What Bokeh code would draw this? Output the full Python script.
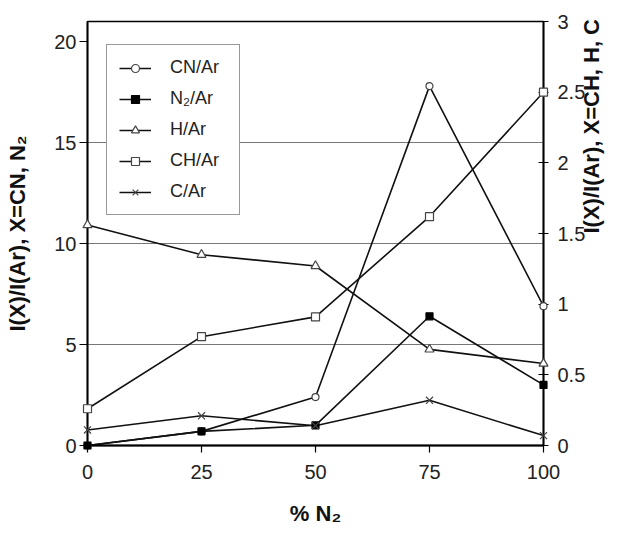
import math
from bokeh.plotting import figure
from bokeh.models import Range1d, LinearAxis, FixedTicker, Legend, LegendItem
from bokeh.embed import file_html
from bokeh.resources import INLINE

# ---- data ----
x_pct = [0, 25, 50, 75, 100]
cn_ar = [0.0, 0.7, 2.4, 17.8, 6.9]      # left axis
n2_ar = [0.0, 0.7, 1.0, 6.4, 3.0]       # left axis
h_ar = [1.56, 1.35, 1.27, 0.68, 0.58]   # right axis
ch_ar = [0.26, 0.77, 0.91, 1.62, 2.5]   # right axis
c_ar = [0.11, 0.21, 0.14, 0.32, 0.07]   # right axis

x_ticks = [0, 25, 50, 75, 100]
left_ticks = [0, 5, 10, 15, 20]
right_ticks = [0, 0.5, 1, 1.5, 2, 2.5, 3]
grid_ticks = [5, 10, 15]

FONT = "Liberation Sans"

p = figure(width=619, height=528, output_backend="svg", toolbar_location=None,
           x_range=Range1d(0, 100), y_range=Range1d(0, 21),
           min_border_left=87, min_border_right=75, min_border_top=21, min_border_bottom=83,
           background_fill_color="white", border_fill_color="white")
p.extra_y_ranges = {"right": Range1d(0, 3)}

p.outline_line_color = "black"
p.outline_line_width = 1.5
p.xgrid.visible = False
p.ygrid.ticker = FixedTicker(ticks=grid_ticks)
p.ygrid.grid_line_color = "#777777"
p.ygrid.grid_line_width = 1.2

# bottom axis
xa = p.xaxis[0]
xa.ticker = FixedTicker(ticks=x_ticks)
xa.axis_label = "% N₂"
# left axis
ya = p.yaxis[0]
ya.ticker = FixedTicker(ticks=left_ticks)
ya.axis_label = "I(X)/I(Ar), X=CN, N₂"
# right axis
ra = LinearAxis(y_range_name="right", ticker=FixedTicker(ticks=right_ticks),
                axis_label="I(X)/I(Ar), X=CH, H, C")
p.add_layout(ra, "right")

for ax in (xa, ya, ra):
    ax.axis_line_color = "black"
    ax.axis_line_width = 1.8
    ax.major_tick_line_color = "black"
    ax.major_tick_line_width = 1.2
    ax.minor_tick_line_color = None
    ax.major_label_text_font = FONT
    ax.major_label_text_font_size = "20px"
    ax.major_label_text_color = "#222222"
    ax.axis_label_text_font = FONT
    ax.axis_label_text_font_style = "bold"
    ax.axis_label_text_font_size = "22px"
    ax.axis_label_text_color = "#111111"

xa.major_tick_out = 7
xa.major_tick_in = 0
xa.major_label_standoff = 12
xa.axis_label_standoff = 19
ya.major_tick_out = 8
ya.major_tick_in = 0
ya.major_label_standoff = 3
ya.axis_label_standoff = 21
ra.major_tick_out = 5
ra.major_tick_in = 5
ra.major_label_standoff = 9
ra.axis_label_standoff = 3
ra.axis_label_orientation = math.pi / 2
ya.major_label_overrides = {0: "0", 5: "5", 10: "10", 15: "15", 20: "20"}
ra.major_label_overrides = {0: "0", 1: "1", 2: "2", 3: "3"}

LINE = "#111111"
EDGE = "#444444"

def series(y, marker, fill, rname=None, size=8):
    kw = {} if rname is None else {"y_range_name": rname}
    ln = p.line(x_pct, y, line_color=LINE, line_width=1.6, **kw)
    sc = p.scatter(x_pct, y, marker=marker, size=size, fill_color=fill,
                   line_color=EDGE if fill == "white" else "black", line_width=1.2,
                   level="overlay", **kw)
    return [ln, sc]

r_cn = series(cn_ar, "circle", "white", size=7)
r_h = series(h_ar, "triangle", "white", "right", size=9)
r_ch = series(ch_ar, "square", "white", "right", size=8)
r_n2 = series(n2_ar, "square", "black", size=7)
r_c = series(c_ar, "x", "white", "right", size=10)

legend = Legend(items=[
    LegendItem(label="CN/Ar", renderers=r_cn),
    LegendItem(label="N₂/Ar", renderers=r_n2),
    LegendItem(label="H/Ar", renderers=r_h),
    LegendItem(label="CH/Ar", renderers=r_ch),
    LegendItem(label="C/Ar", renderers=r_c),
], location=(19, 230), margin=0, padding=12, spacing=10,
   glyph_width=32, glyph_height=20, label_height=20, label_width=57,
   label_standoff=19, label_text_font=FONT, label_text_font_size="18px",
   label_text_color="#222222", border_line_color="#333333", border_line_width=1.5,
   background_fill_color="white", background_fill_alpha=1.0)
p.add_layout(legend, "center")

open("out.html", "w").write(file_html(p, INLINE))
